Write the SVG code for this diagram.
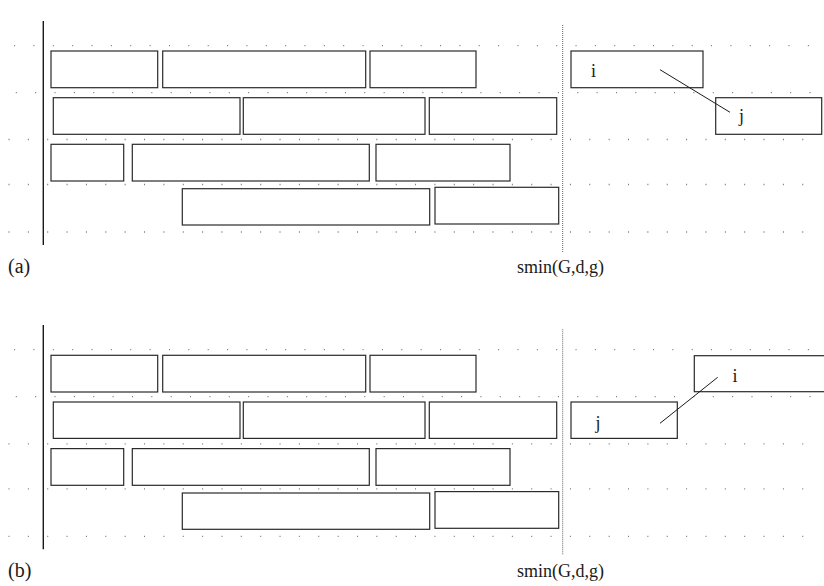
<svg xmlns="http://www.w3.org/2000/svg" width="824" height="586" viewBox="0 0 824 586">
<style>
.bg{fill:#fff}
.box{fill:#fff;stroke:#2a2a2a;stroke-width:1.2}
.axis{stroke:#1a1a1a;stroke-width:1.4}
.bound{stroke:#666;stroke-width:1;stroke-dasharray:1 1}
.dots{stroke:#7a7a7a;stroke-width:1.3;stroke-dasharray:1 18.36}
.link{stroke:#1a1a1a;stroke-width:1;fill:none}
.lbl{font-family:"Liberation Serif","Times New Roman",serif;fill:#1a1a1a}
.nl{font-size:18px}
.cap{font-size:20px}
.sm{font-size:18px}
</style>
<rect class="bg" x="0" y="0" width="824" height="586"/>

<!-- Panel (a) -->
<g id="panel-a-grid">
<line class="dots" x1="14.1" y1="45.7" x2="820" y2="45.7"/>
<line class="dots" x1="15.8" y1="92.7" x2="820" y2="92.7"/>
<line class="dots" x1="8.5" y1="139.5" x2="820" y2="139.5"/>
<line class="dots" x1="8.5" y1="184.5" x2="820" y2="184.5"/>
<line class="dots" x1="8.5" y1="232" x2="820" y2="232"/>
<line class="axis" x1="43.3" y1="21" x2="43.3" y2="245"/>
<line class="bound" x1="562.7" y1="25" x2="562.7" y2="252"/>
</g>
<g id="a-r1-1"><rect class="box" x="51" y="51" width="106.7" height="36.7"/></g>
<g id="a-r1-2"><rect class="box" x="162.7" y="51" width="203" height="36.7"/></g>
<g id="a-r1-3"><rect class="box" x="370" y="51" width="106" height="36.7"/></g>
<g id="a-r2-1"><rect class="box" x="53.3" y="97.7" width="186.7" height="36.6"/></g>
<g id="a-r2-2"><rect class="box" x="243.3" y="97.7" width="181.7" height="36.6"/></g>
<g id="a-r2-3"><rect class="box" x="429.3" y="97.7" width="127.4" height="36.6"/></g>
<g id="a-r3-1"><rect class="box" x="51" y="144.3" width="72.7" height="36.7"/></g>
<g id="a-r3-2"><rect class="box" x="132.3" y="144.3" width="237" height="36.7"/></g>
<g id="a-r3-3"><rect class="box" x="376" y="144.3" width="134" height="36.7"/></g>
<g id="a-r4-1"><rect class="box" x="182.3" y="188.7" width="247.4" height="36.3"/></g>
<g id="a-r4-2"><rect class="box" x="435" y="187.3" width="123.7" height="36.7"/></g>
<g id="a-i"><rect class="box" x="571" y="51" width="132" height="36.7"/><text class="lbl nl" x="591" y="77">i</text></g>
<g id="a-j"><rect class="box" x="715.7" y="97.7" width="106" height="36.6"/><text class="lbl nl" x="739" y="121.5">j</text></g>
<g id="a-labels">
<text class="lbl cap" x="8" y="273">(a)</text>
<text class="lbl sm" x="517" y="272.5">smin(G,d,g)</text>
</g>

<!-- Panel (b) -->
<g id="panel-b-grid">
<line class="dots" x1="14.1" y1="349.7" x2="820" y2="349.7"/>
<line class="dots" x1="15.8" y1="396.7" x2="820" y2="396.7"/>
<line class="dots" x1="8.5" y1="443.8" x2="820" y2="443.8"/>
<line class="dots" x1="8.5" y1="488.8" x2="820" y2="488.8"/>
<line class="dots" x1="8.5" y1="536.3" x2="820" y2="536.3"/>
<line class="axis" x1="43.3" y1="325" x2="43.3" y2="549.3"/>
<line class="bound" x1="562.7" y1="329.3" x2="562.7" y2="555"/>
</g>
<g id="b-r1-1"><rect class="box" x="51" y="355.3" width="106.7" height="36.7"/></g>
<g id="b-r1-2"><rect class="box" x="162.7" y="355.3" width="203" height="36.7"/></g>
<g id="b-r1-3"><rect class="box" x="370" y="355.3" width="106" height="36.7"/></g>
<g id="b-r2-1"><rect class="box" x="53.3" y="402" width="186.7" height="36.4"/></g>
<g id="b-r2-2"><rect class="box" x="243.3" y="402" width="181.7" height="36.4"/></g>
<g id="b-r2-3"><rect class="box" x="429.3" y="402" width="127.4" height="36.4"/></g>
<g id="b-r3-1"><rect class="box" x="51" y="448.6" width="72.7" height="36.7"/></g>
<g id="b-r3-2"><rect class="box" x="132.3" y="448.6" width="237" height="36.7"/></g>
<g id="b-r3-3"><rect class="box" x="376" y="448.6" width="134" height="36.7"/></g>
<g id="b-r4-1"><rect class="box" x="182.3" y="493" width="247.4" height="36.3"/></g>
<g id="b-r4-2"><rect class="box" x="435" y="491.6" width="123.7" height="36.7"/></g>
<g id="b-j"><rect class="box" x="571" y="402" width="106.3" height="36.4"/><text class="lbl nl" x="595.5" y="428.5">j</text></g>
<g id="b-i"><rect class="box" x="694.3" y="355.7" width="140" height="36"/><text class="lbl nl" x="732.5" y="382">i</text></g>
<g id="b-labels">
<text class="lbl cap" x="8" y="577">(b)</text>
<text class="lbl sm" x="517" y="576.8">smin(G,d,g)</text>
</g>

<g id="connectors">
<line class="link" x1="660" y1="69.7" x2="730" y2="112.3"/>
<line class="link" x1="717.7" y1="377.3" x2="660" y2="423.3"/>
</g>
</svg>
